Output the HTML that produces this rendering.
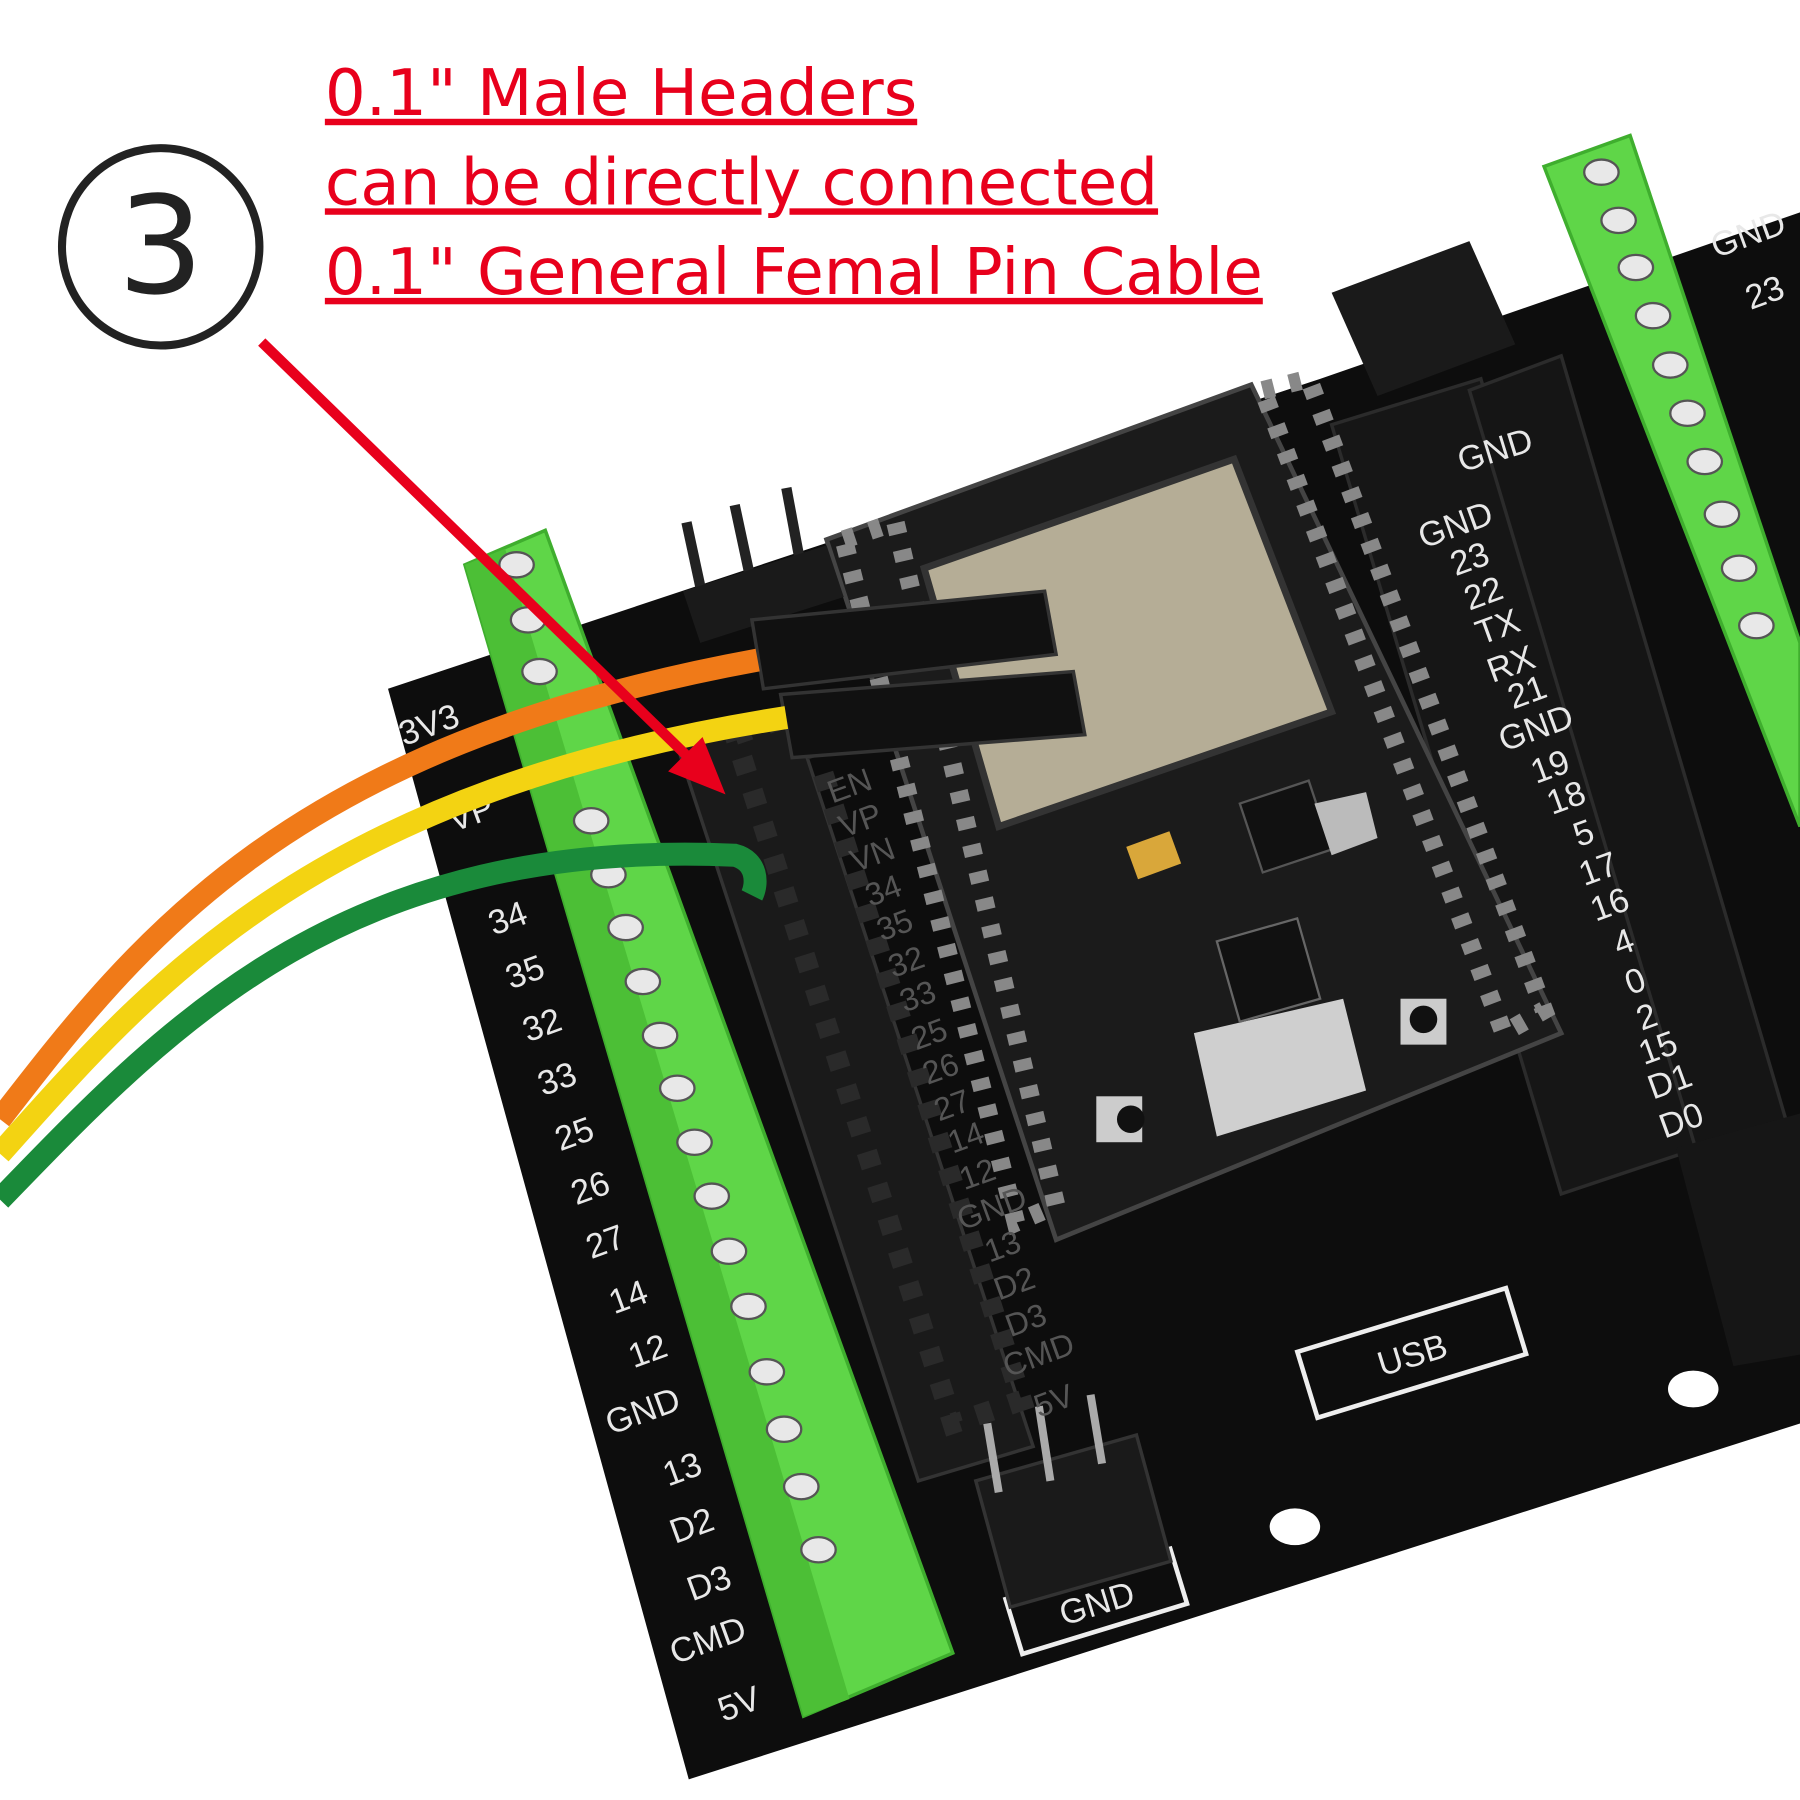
<!DOCTYPE html>
<html><head><meta charset="utf-8"><style>
html,body{margin:0;padding:0;background:#fff;}
svg{display:block}
.lb{font-family:"Liberation Sans",sans-serif;fill:#e8e8e8;font-size:30px;}
.lm{font-family:"Liberation Sans",sans-serif;fill:#555;font-size:28px;}
.rt{font-family:"DejaVu Sans","Liberation Sans",sans-serif;fill:#e8001c;font-size:56px;text-decoration:underline;}
</style></head><body>
<svg width="1800" height="1800" viewBox="0 0 1568 1568" xmlns="http://www.w3.org/2000/svg">
<rect width="1568" height="1568" fill="#fff"/>
<polygon points="338,600 1150,330 1568,185 1568,1240 600,1550" fill="#0d0d0d"/>
<polygon points="590,650 690,620 900,1260 800,1290" fill="#1a1a1a" stroke="#333" stroke-width="3"/>
<polygon points="640,640 700,620 890,1220 830,1240" fill="none" stroke="#2a2a2a" stroke-width="18" stroke-dasharray="14 16"/>
<polygon points="1160,255 1280,210 1320,300 1200,345" fill="#1a1a1a"/>
<polygon points="1160,370 1290,330 1480,1000 1360,1040" fill="#161616" stroke="#2b2b2b" stroke-width="3"/>
<polygon points="1280,340 1360,310 1560,990 1480,1010" fill="#151515" stroke="#2b2b2b" stroke-width="3"/>
<polygon points="1460,1000 1568,970 1568,1180 1510,1190" fill="#161616"/>
<polygon points="720,470 1090,335 1360,900 920,1080" fill="#1b1b1b" stroke="#444" stroke-width="4"/>
<polygon points="735,470 780,455 920,1050 885,1065" fill="none" stroke="#888" stroke-width="16" stroke-dasharray="10 14"/>
<polygon points="1100,340 1140,330 1345,880 1310,900" fill="none" stroke="#888" stroke-width="16" stroke-dasharray="10 14"/>
<polygon points="805,495 1075,400 1160,620 870,720" fill="#b5ad96" stroke="#333" stroke-width="6"/>
<polygon points="1040,900 1170,870 1190,950 1060,990" fill="#cfcfcf"/>
<rect x="1220" y="870" width="40" height="40" fill="#ccc"/>
<rect x="955" y="955" width="40" height="40" fill="#ccc"/>
<circle cx="1240" cy="888" r="12" fill="#111"/>
<circle cx="985" cy="975" r="12" fill="#111"/>
<rect x="985" y="730" width="40" height="30" fill="#d9a73a" transform="rotate(-20 1005 745)"/>
<polygon points="1080,700 1140,680 1160,740 1100,760" fill="#111" stroke="#555" stroke-width="2"/>
<polygon points="1060,820 1130,800 1150,870 1080,890" fill="#111" stroke="#666" stroke-width="2"/>
<polygon points="1145,700 1190,690 1200,730 1160,745" fill="#bbb"/>
<g transform="rotate(-17 1225 1180)"><rect x="1135" y="1150" width="190" height="60" fill="none" stroke="#eee" stroke-width="4"/><text x="1230" y="1192" class="lb" text-anchor="middle" font-size="34">USB</text></g>
<g transform="rotate(-17 955 1395)"><rect x="880" y="1370" width="150" height="50" fill="none" stroke="#eee" stroke-width="4"/><text x="955" y="1407" class="lb" text-anchor="middle" font-size="32">GND</text></g>
<g transform="rotate(-17 1270 400)"><text x="1270" y="412" class="lb">GND</text></g>
<ellipse cx="1128" cy="1330" rx="22" ry="16" fill="#fff"/>
<ellipse cx="1475" cy="1210" rx="22" ry="16" fill="#fff"/>
<polygon points="850,1290 990,1250 1020,1360 880,1400" fill="#1a1a1a" stroke="#333" stroke-width="3"/>
<g stroke="#aaa" stroke-width="7"><line x1="860" y1="1240" x2="870" y2="1300"/><line x1="905" y1="1225" x2="915" y2="1290"/><line x1="950" y1="1215" x2="960" y2="1275"/></g>
<g stroke="#222" stroke-width="9"><line x1="598" y1="455" x2="612" y2="520"/><line x1="640" y1="440" x2="655" y2="510"/><line x1="685" y1="425" x2="698" y2="495"/></g>
<polygon points="595,515 720,475 735,520 610,560" fill="#1a1a1a"/>
<polygon points="405,492 475,462 830,1440 700,1495" fill="#5fd648" stroke="#3fae2e" stroke-width="3"/>
<polygon points="405,492 440,478 740,1480 700,1495" fill="#4cbf36"/>
<g fill="#e8e8e8" stroke="#555" stroke-width="2">
<ellipse cx="450" cy="492" rx="15" ry="11"/><ellipse cx="460" cy="540" rx="15" ry="11"/><ellipse cx="470" cy="585" rx="15" ry="11"/>
<ellipse cx="515" cy="715" rx="15" ry="11"/><ellipse cx="530" cy="762" rx="15" ry="11"/><ellipse cx="545" cy="808" rx="15" ry="11"/>
<ellipse cx="560" cy="855" rx="15" ry="11"/><ellipse cx="575" cy="902" rx="15" ry="11"/><ellipse cx="590" cy="948" rx="15" ry="11"/>
<ellipse cx="605" cy="995" rx="15" ry="11"/><ellipse cx="620" cy="1042" rx="15" ry="11"/><ellipse cx="635" cy="1090" rx="15" ry="11"/>
<ellipse cx="652" cy="1138" rx="15" ry="11"/><ellipse cx="668" cy="1195" rx="15" ry="11"/><ellipse cx="683" cy="1245" rx="15" ry="11"/>
<ellipse cx="698" cy="1295" rx="15" ry="11"/><ellipse cx="713" cy="1350" rx="15" ry="11"/>
</g>
<polygon points="1345,145 1420,118 1568,560 1568,720" fill="#5fd648" stroke="#3fae2e" stroke-width="3"/>
<g fill="#e8e8e8" stroke="#555" stroke-width="2">
<ellipse cx="1395" cy="150" rx="15" ry="11"/><ellipse cx="1410" cy="192" rx="15" ry="11"/><ellipse cx="1425" cy="233" rx="15" ry="11"/>
<ellipse cx="1440" cy="275" rx="15" ry="11"/><ellipse cx="1455" cy="318" rx="15" ry="11"/><ellipse cx="1470" cy="360" rx="15" ry="11"/>
<ellipse cx="1485" cy="402" rx="15" ry="11"/><ellipse cx="1500" cy="448" rx="15" ry="11"/><ellipse cx="1515" cy="495" rx="15" ry="11"/><ellipse cx="1530" cy="545" rx="15" ry="11"/>
</g>
<g transform="rotate(-20 1495 225)"><text x="1495" y="225" class="lb">GND</text></g>
<text x="1525" y="270" class="lb" transform="rotate(-20 1525 270)">23</text>
<g class="lb">
<text transform="translate(352,650) rotate(-20)">3V3</text>
<text transform="translate(395,725) rotate(-20)">VP</text>
<text transform="translate(430,815) rotate(-20)">34</text>
<text transform="translate(445,862) rotate(-20)">35</text>
<text transform="translate(460,908) rotate(-20)">32</text>
<text transform="translate(473,955) rotate(-20)">33</text>
<text transform="translate(488,1003) rotate(-20)">25</text>
<text transform="translate(502,1050) rotate(-20)">26</text>
<text transform="translate(515,1097) rotate(-20)">27</text>
<text transform="translate(535,1145) rotate(-20)">14</text>
<text transform="translate(552,1192) rotate(-20)">12</text>
<text transform="translate(532,1250) rotate(-20)">GND</text>
<text transform="translate(582,1295) rotate(-20)">13</text>
<text transform="translate(588,1345) rotate(-20)">D2</text>
<text transform="translate(603,1395) rotate(-20)">D3</text>
<text transform="translate(588,1450) rotate(-20)">CMD</text>
<text transform="translate(630,1500) rotate(-20)">5V</text>
</g>
<g class="lm">
<text transform="translate(725,700) rotate(-20)">EN</text>
<text transform="translate(735,730) rotate(-20)">VP</text>
<text transform="translate(745,760) rotate(-20)">VN</text>
<text transform="translate(758,790) rotate(-20)">34</text>
<text transform="translate(768,820) rotate(-20)">35</text>
<text transform="translate(778,852) rotate(-20)">32</text>
<text transform="translate(788,882) rotate(-20)">33</text>
<text transform="translate(798,915) rotate(-20)">25</text>
<text transform="translate(808,945) rotate(-20)">26</text>
<text transform="translate(818,977) rotate(-20)">27</text>
<text transform="translate(830,1005) rotate(-20)">14</text>
<text transform="translate(840,1037) rotate(-20)">12</text>
<text transform="translate(838,1072) rotate(-20)">GND</text>
<text transform="translate(862,1100) rotate(-20)">13</text>
<text transform="translate(870,1133) rotate(-20)">D2</text>
<text transform="translate(880,1165) rotate(-20)">D3</text>
<text transform="translate(878,1200) rotate(-20)">CMD</text>
<text transform="translate(905,1235) rotate(-20)">5V</text>
</g>
<g class="lb" fill="#ddd">
<text transform="translate(1240,478) rotate(-20)">GND</text>
<text transform="translate(1268,502) rotate(-20)">23</text>
<text transform="translate(1280,532) rotate(-20)">22</text>
<text transform="translate(1290,562) rotate(-20)">TX</text>
<text transform="translate(1300,595) rotate(-20)">RX</text>
<text transform="translate(1318,618) rotate(-20)">21</text>
<text transform="translate(1310,655) rotate(-20)">GND</text>
<text transform="translate(1338,683) rotate(-20)">19</text>
<text transform="translate(1352,710) rotate(-20)">18</text>
<text transform="translate(1375,738) rotate(-20)">5</text>
<text transform="translate(1380,772) rotate(-20)">17</text>
<text transform="translate(1390,803) rotate(-20)">16</text>
<text transform="translate(1410,833) rotate(-20)">4</text>
<text transform="translate(1420,867) rotate(-20)">0</text>
<text transform="translate(1430,898) rotate(-20)">2</text>
<text transform="translate(1432,928) rotate(-20)">15</text>
<text transform="translate(1440,958) rotate(-20)">D1</text>
<text transform="translate(1450,992) rotate(-20)">D0</text>
</g>
<polygon points="655,540 910,515 920,570 665,600" fill="#111" stroke="#333" stroke-width="3"/>
<polygon points="680,605 935,585 945,640 690,660" fill="#111" stroke="#333" stroke-width="3"/>
<path d="M0,975 C120,820 250,650 660,575" fill="none" stroke="#f07a18" stroke-width="20"/>
<path d="M0,1005 C130,860 270,690 685,625" fill="none" stroke="#f3d312" stroke-width="20"/>
<path d="M0,1045 C150,890 300,730 640,745 C660,750 660,770 655,780" fill="none" stroke="#1a8a3a" stroke-width="20"/>
<line x1="228" y1="298" x2="600" y2="660" stroke="#e8001c" stroke-width="9"/>
<polygon points="632,692 582,672 612,642" fill="#e8001c"/>
<circle cx="140" cy="215" r="86" fill="none" stroke="#222" stroke-width="7"/>
<text x="140" y="255" font-family="DejaVu Sans,sans-serif" font-size="118" text-anchor="middle" fill="#222">3</text>
<text x="283" y="100" class="rt">0.1" Male Headers</text>
<text x="283" y="178" class="rt">can be directly connected </text>
<text x="283" y="256" class="rt">0.1" General Femal Pin Cable</text>
</svg>
</body></html>
